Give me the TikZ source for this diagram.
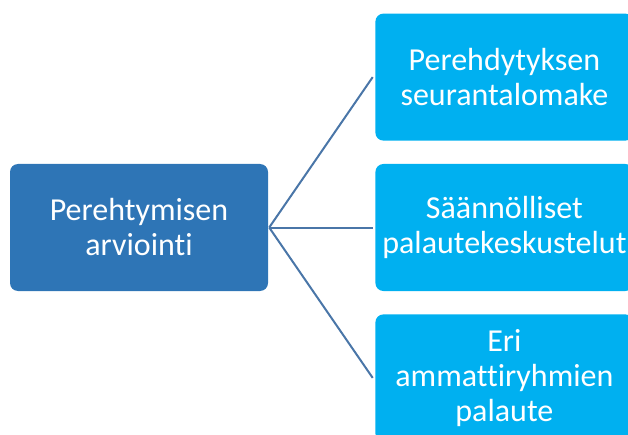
\documentclass[tikz,border=0pt]{standalone}
\usepackage{fontspec}
\setmainfont[Ligatures={NoCommon}]{Carlito}
\usetikzlibrary{positioning}
\usepackage{xcolor}
\definecolor{darkblue}{HTML}{2E75B6}
\definecolor{lightblue}{HTML}{00B0F0}
\definecolor{linkblue}{HTML}{4A76A8}

\begin{document}
\begin{tikzpicture}[x=1pt, y=1pt,
    box/.style={rounded corners=8pt, minimum width=258pt, minimum height=127pt,
        inner sep=0pt, text=white, align=center, font=\fontsize{32}{35}\selectfont},
    link/.style={draw=linkblue, line width=2pt}]
    \useasboundingbox (0,0) rectangle (628,434);
    \clip (0,0) rectangle (628,434);
    % main topic
    \node[box, fill=darkblue] (eval) at (139,206.5) {Perehtymisen\\arviointi};
    % sub topics
    \node[box, fill=lightblue] (talk)  [right=107pt of eval] {Säännölliset\\palautekeskustelut};
    \node[box, fill=lightblue] (form)  [above=23pt of talk]  {Perehdytyksen\\seurantalomake};
    \node[box, fill=lightblue] (group) [below=23pt of talk]  {Eri\\ammattiryhmien\\palaute};

    \coordinate (hub) at ([xshift=1pt]eval.east);
    \draw[link] (hub) -- ([xshift=-2.5pt]form.west);
    \draw[link] (hub) -- ([xshift=-2.5pt]talk.west);
    \draw[link] (hub) -- ([xshift=-2.5pt]group.west);
\end{tikzpicture}
\end{document}
